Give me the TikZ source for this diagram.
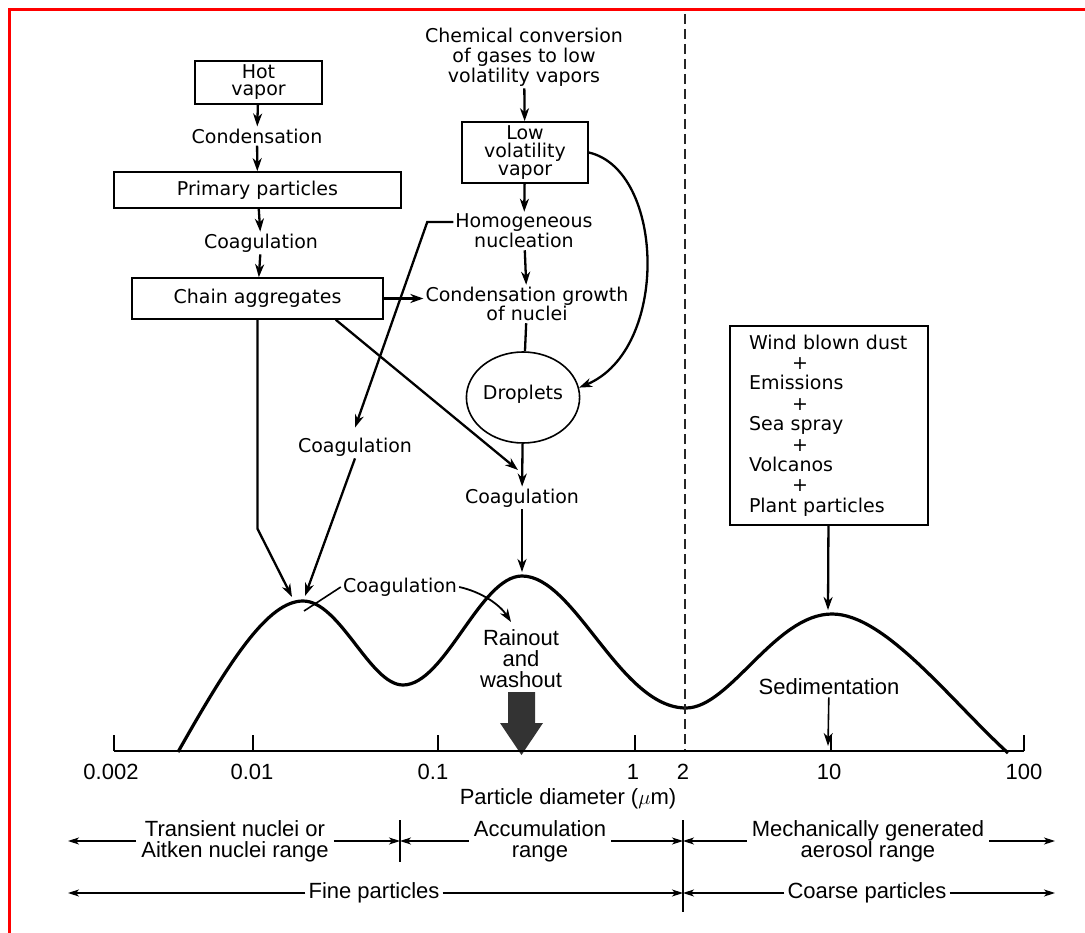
\documentclass[tikz,border=0pt]{standalone}
\usepackage{fontspec}
\setmainfont{DejaVu Sans}
\newfontfamily\axisfont{Liberation Sans}
\usetikzlibrary{arrows.meta,shapes.geometric,calc}

\begin{document}
\begin{tikzpicture}[x=1pt,y=-1pt,>={Stealth[length=13pt,width=9pt,inset=4pt]},
  every node/.style={font=\fontsize{19}{20}\selectfont,inner sep=2pt},
  box/.style={draw,line width=1.6pt,inner sep=0pt,align=center},
  flow/.style={->,line width=2.3pt},
  axlabel/.style={font=\axisfont\fontsize{22}{21}\selectfont,align=center},
  rangearrow/.style={->,line width=1.1pt,>={Stealth[length=11pt,width=7pt,inset=3pt]}}]

  \useasboundingbox (0,0) rectangle (1085,933);
  \draw[red,line width=3pt] (9.5,933) -- (9.5,9.5) -- (1085,9.5);

  % left column: hot vapor to chain aggregates
  \node[box,minimum width=127,minimum height=43,font=\fontsize{19}{17}\selectfont] (hot) at (258.5,82.5) {Hot\\vapor};
  \node (cond) at (257,136) {Condensation};
  \node[box,minimum width=287,minimum height=36] (prim) at (257.5,190) {Primary particles};
  \node (coagA) at (261,243) {Coagulation};
  \node[box,minimum width=251,minimum height=41] (chain) at (257.5,298.5) {Chain aggregates};
  \draw[flow] (hot) -- (cond);
  \draw[flow] (cond) -- (prim);
  \draw[flow] (prim) -- (coagA);
  \draw[flow] (coagA) -- (chain);

  % middle column: gases to droplets
  \node[align=center] (chem) at (524,57) {Chemical conversion\\of gases to low\\volatility vapors};
  \node[box,minimum width=126,minimum height=61,font=\fontsize{19}{18}\selectfont] (lowvap) at (525,152.5) {Low\\volatility\\vapor};
  \node[align=center] (homog) at (524,231) {Homogeneous\\nucleation};
  \node[align=center,font=\fontsize{19}{18}\selectfont] (growth) at (527,304) {Condensation growth\\of nuclei};
  \node[draw,ellipse,line width=1.6pt,minimum width=112,minimum height=91,inner sep=0pt] (drop) at (523,397.5) {\raisebox{10pt}{Droplets}};
  \node (coagC) at (522,498) {Coagulation};
  \node (coagB) at (355,447) {Coagulation};
  \draw[flow] (chem) -- (lowvap);
  \draw[flow] (lowvap) -- (homog);
  \draw[flow] (homog) -- (growth);
  \draw[line width=2.3pt] (growth) -- (drop);
  \draw[flow] (drop) -- (coagC);
  \draw[flow] (chain.east) -- (chain.east -| growth.west);
  \draw[flow] ([yshift=9pt]homog.west) -- ++(-26,0) -- ([yshift=8pt]coagB.north);
  \draw[flow] (lowvap.east) .. controls (665,170) and (670,350) .. (drop.10);
  \coordinate (dtip) at (518,470);
  \draw[flow] ($(chain.south west)!0.81!(chain.south east)$) -- (dtip);

  % size distribution
  \coordinate (pk1a) at (292,597);
  \coordinate (pk1b) at (305,596);
  \coordinate (pk1c) at (304,611);
  \coordinate (pk2) at (522,572);
  \coordinate (pk3) at (828,610);
  \draw[flow] (chain.south) -- ++(0,209) -- (pk1a);
  \draw[flow] (coagB.south) -- (pk1b);
  \draw[flow] (coagC) -- (pk2);

  \draw[line width=3.2pt,line join=round]
    (178,752) .. controls (230,660) and (268,601) .. (303,601)
    .. controls (340,601) and (370,685) .. (403,685)
    .. controls (445,685) and (480,576) .. (522,576)
    .. controls (575,576) and (620,708) .. (686,708)
    .. controls (730,708) and (775,614) .. (832,614)
    .. controls (885,614) and (950,700) .. (1008,753);

  \node (coagD) at (400,587) {Coagulation};
  \coordinate (rtip) at (511,622);
  \draw[line width=1.6pt] (coagD.west) -- (pk1c);
  \draw[flow,line width=1.8pt] (coagD.east) .. controls (482,592) and (500,605) .. (rtip);
  \node[axlabel] (rain) at (521,659) {Rainout\\and\\washout};
  \fill[black!80] (508,692) -- (535,692) -- (535,723) -- (543,723) -- (521.5,755)
    -- (500,723) -- (508,723) -- cycle;

  % coarse mode sources
  \node[box,text width=160,inner xsep=19,minimum height=199,align=left,font=\fontsize{19}{20.4}\selectfont] (src) at (829,425.5)
    {Wind blown dust\\\hspace*{43pt}+\\Emissions\\\hspace*{43pt}+\\Sea spray\\\hspace*{43pt}+\\Volcanos\\\hspace*{43pt}+\\Plant particles};
  \draw[flow] (src) -- (pk3);
  \node[axlabel] (sed) at (829,687) {Sedimentation};
  \coordinate (sedtip) at (828,746);
  \draw[->,line width=1.6pt] (sed) -- (sedtip);

  % axis
  \draw[black!85,line width=1.1pt,dash pattern=on 10pt off 5pt] (685,14) -- (685,751);
  \draw[line width=1.8pt] (114,751) -- (1024,751);
  \foreach \tx in {114,253,438,635,831,1024}
    \draw[line width=1.4pt] (\tx,751) -- (\tx,735);
  \foreach \tx/\tl in {111/0.002,252/0.01,433/0.1,633/1,683/2,829/10,1024/100}
    \node[axlabel] (t\tl) at (\tx,772) {\tl};
  \node[axlabel] (xlab) at (568,799) {Particle diameter ($\mu$m)};

  % size ranges
  \draw[line width=1.1pt] (400,820) -- (400,862);
  \draw[line width=1.1pt] (683,820) -- (683,912);
  \coordinate (L1) at (68,841);
  \coordinate (R1) at (1055,841);
  \coordinate (L2) at (68,893);
  \coordinate (R2) at (1055,893);
  \coordinate (s1) at (400,841);
  \coordinate (s2) at (683,841);
  \coordinate (s3) at (683,893);
  \node[axlabel,inner sep=5pt] (trans) at (235,841) {Transient nuclei or\\Aitken nuclei range};
  \node[axlabel,inner sep=5pt] (accum) at (540,841) {Accumulation\\range};
  \node[axlabel,inner sep=5pt] (mech) at (868,841) {Mechanically generated\\aerosol range};
  \node[axlabel,inner sep=3pt] (fine) at (374,893) {Fine particles};
  \node[axlabel,inner sep=3pt] (coarse) at (867,893) {Coarse particles};
  \draw[rangearrow] (trans.west) -- (L1);
  \draw[rangearrow] (trans.east) -- (s1);
  \draw[rangearrow] (accum.west) -- (s1);
  \draw[rangearrow] (accum.east) -- (s2);
  \draw[rangearrow] (mech.west) -- (s2);
  \draw[rangearrow] (mech.east) -- (R1);
  \draw[rangearrow] (fine.west) -- (L2);
  \draw[rangearrow] (fine.east) -- (s3);
  \draw[rangearrow] (coarse.west) -- (s3);
  \draw[rangearrow] (coarse.east) -- (R2);
\end{tikzpicture}
\end{document}
